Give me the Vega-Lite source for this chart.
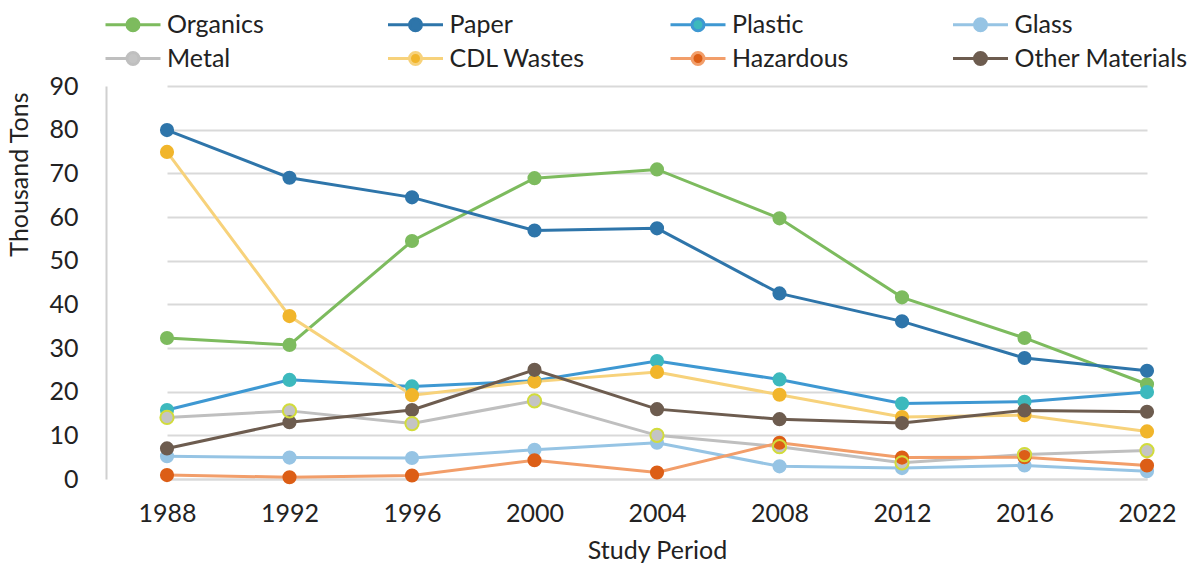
{
  "$schema": "https://vega.github.io/schema/vega-lite/v6.json",
  "width": 1093,
  "height": 393,
  "autosize": {"type": "none"},
  "padding": {"left": 106, "top": 86, "right": 0, "bottom": 86},
  "background": "white",
  "data": {
    "values": [
      {"year": "1988", "cat": "Organics", "v": 32.3},
      {"year": "1992", "cat": "Organics", "v": 30.7},
      {"year": "1996", "cat": "Organics", "v": 54.5},
      {"year": "2000", "cat": "Organics", "v": 68.9},
      {"year": "2004", "cat": "Organics", "v": 70.9},
      {"year": "2008", "cat": "Organics", "v": 59.7},
      {"year": "2012", "cat": "Organics", "v": 41.6},
      {"year": "2016", "cat": "Organics", "v": 32.3},
      {"year": "2022", "cat": "Organics", "v": 21.7},
      {"year": "1988", "cat": "Paper", "v": 79.9},
      {"year": "1992", "cat": "Paper", "v": 69.0},
      {"year": "1996", "cat": "Paper", "v": 64.5},
      {"year": "2000", "cat": "Paper", "v": 56.9},
      {"year": "2004", "cat": "Paper", "v": 57.4},
      {"year": "2008", "cat": "Paper", "v": 42.5},
      {"year": "2012", "cat": "Paper", "v": 36.1},
      {"year": "2016", "cat": "Paper", "v": 27.7},
      {"year": "2022", "cat": "Paper", "v": 24.8},
      {"year": "1988", "cat": "Plastic", "v": 15.8},
      {"year": "1992", "cat": "Plastic", "v": 22.7},
      {"year": "1996", "cat": "Plastic", "v": 21.2},
      {"year": "2000", "cat": "Plastic", "v": 22.5},
      {"year": "2004", "cat": "Plastic", "v": 27.0},
      {"year": "2008", "cat": "Plastic", "v": 22.8},
      {"year": "2012", "cat": "Plastic", "v": 17.3},
      {"year": "2016", "cat": "Plastic", "v": 17.7},
      {"year": "2022", "cat": "Plastic", "v": 19.9},
      {"year": "1988", "cat": "Glass", "v": 5.2},
      {"year": "1992", "cat": "Glass", "v": 4.9},
      {"year": "1996", "cat": "Glass", "v": 4.8},
      {"year": "2000", "cat": "Glass", "v": 6.7},
      {"year": "2004", "cat": "Glass", "v": 8.3},
      {"year": "2008", "cat": "Glass", "v": 2.9},
      {"year": "2012", "cat": "Glass", "v": 2.5},
      {"year": "2016", "cat": "Glass", "v": 3.1},
      {"year": "2022", "cat": "Glass", "v": 1.8},
      {"year": "1988", "cat": "Metal", "v": 14.1},
      {"year": "1992", "cat": "Metal", "v": 15.6},
      {"year": "1996", "cat": "Metal", "v": 12.7},
      {"year": "2000", "cat": "Metal", "v": 17.9},
      {"year": "2004", "cat": "Metal", "v": 10.0},
      {"year": "2008", "cat": "Metal", "v": 7.4},
      {"year": "2012", "cat": "Metal", "v": 3.7},
      {"year": "2016", "cat": "Metal", "v": 5.6},
      {"year": "2022", "cat": "Metal", "v": 6.5},
      {"year": "1988", "cat": "CDL Wastes", "v": 74.9},
      {"year": "1992", "cat": "CDL Wastes", "v": 37.3},
      {"year": "1996", "cat": "CDL Wastes", "v": 19.2},
      {"year": "2000", "cat": "CDL Wastes", "v": 22.3},
      {"year": "2004", "cat": "CDL Wastes", "v": 24.5},
      {"year": "2008", "cat": "CDL Wastes", "v": 19.3},
      {"year": "2012", "cat": "CDL Wastes", "v": 14.2},
      {"year": "2016", "cat": "CDL Wastes", "v": 14.6},
      {"year": "2022", "cat": "CDL Wastes", "v": 10.9},
      {"year": "1988", "cat": "Hazardous", "v": 0.9},
      {"year": "1992", "cat": "Hazardous", "v": 0.4},
      {"year": "1996", "cat": "Hazardous", "v": 0.8},
      {"year": "2000", "cat": "Hazardous", "v": 4.3},
      {"year": "2004", "cat": "Hazardous", "v": 1.5},
      {"year": "2008", "cat": "Hazardous", "v": 8.3},
      {"year": "2012", "cat": "Hazardous", "v": 4.9},
      {"year": "2016", "cat": "Hazardous", "v": 5.0},
      {"year": "2022", "cat": "Hazardous", "v": 3.1},
      {"year": "1988", "cat": "Other Materials", "v": 7.0},
      {"year": "1992", "cat": "Other Materials", "v": 13.0},
      {"year": "1996", "cat": "Other Materials", "v": 15.8},
      {"year": "2000", "cat": "Other Materials", "v": 25.0},
      {"year": "2004", "cat": "Other Materials", "v": 16.0},
      {"year": "2008", "cat": "Other Materials", "v": 13.7},
      {"year": "2012", "cat": "Other Materials", "v": 12.8},
      {"year": "2016", "cat": "Other Materials", "v": 15.7},
      {"year": "2022", "cat": "Other Materials", "v": 15.4}
    ]
  },
  "encoding": {
    "x": {
      "field": "year",
      "type": "ordinal",
      "scale": {"type": "point", "range": [61, 1041], "padding": 0},
      "axis": {
        "title": "Study Period",
        "labelAngle": 0,
        "labelPadding": 22,
        "titlePadding": 12,
        "ticks": false,
        "domain": true,
        "domainColor": "#D9D9D9",
        "domainWidth": 2
      }
    },
    "y": {
      "field": "v",
      "type": "quantitative",
      "scale": {"domain": [0, 90], "nice": false},
      "axis": {
        "title": "Thousand Tons",
        "titleAnchor": "end",
        "titleY": 6,
        "values": [0, 10, 20, 30, 40, 50, 60, 70, 80, 90],
        "ticks": false,
        "labelPadding": 28,
        "titlePadding": 16,
        "domainColor": "#D0D0D0",
        "domainWidth": 2,
        "grid": true,
        "gridColor": "#D9D9D9",
        "gridWidth": 2
      }
    }
  },
  "layer": [
    {
      "mark": {"type": "line", "strokeWidth": 3},
      "encoding": {
        "stroke": {
          "field": "cat",
          "type": "nominal",
          "title": null,
          "scale": {
            "domain": ["Organics", "Paper", "Plastic", "Glass", "Metal", "CDL Wastes", "Hazardous", "Other Materials"],
            "range": ["#7DBB5E", "#2E75AA", "#3E98D2", "#96C4E4", "#BFBFBF", "#F7D27B", "#F29E6A", "#6D5C4F"]
          }
        }
      }
    },
    {
      "mark": {"type": "point", "filled": true, "size": 200, "opacity": 1},
      "encoding": {
        "fill": {
          "field": "cat",
          "type": "nominal",
          "title": null,
          "scale": {
            "domain": ["Organics", "Paper", "Plastic", "Glass", "Metal", "CDL Wastes", "Hazardous", "Other Materials"],
            "range": ["#7DBB5E", "#2E75AA", "#3DB9BD", "#96C4E4", "#C4C4C4", "#F1B52B", "#DC5E16", "#6D5C4F"]
          }
        }
      }
    },
    {
      "transform": [{"filter": "datum.cat === 'Metal'"}],
      "mark": {"type": "point", "filled": false, "size": 175, "stroke": "#D2DC3B", "strokeWidth": 2, "opacity": 1}
    }
  ],
  "config": {
    "view": {"stroke": null},
    "font": "Lato",
    "axis": {
      "labelFont": "Lato",
      "labelFontSize": 25,
      "labelColor": "#222222",
      "titleFont": "Lato",
      "titleFontSize": 25,
      "titleFontWeight": "normal",
      "titleColor": "#222222"
    },
    "legend": {
      "orient": "none",
      "legendX": 14.5,
      "legendY": -74,
      "columns": 4,
      "direction": "horizontal",
      "gridAlign": "all",
      "columnPadding": 41.5,
      "rowPadding": 8,
      "symbolType": "M-3.4375,0H-0.75M0.75,0H3.4375M-0.75,0A0.75,0.75,0,1,1,0.75,0A0.75,0.75,0,1,1,-0.75,0Z",
      "symbolSize": 256,
      "symbolStrokeWidth": 3,
      "symbolOpacity": 1,
      "labelOffset": 21.5,
      "labelLimit": 300,
      "labelFont": "Lato",
      "labelFontSize": 25,
      "labelColor": "#222222",
      "padding": 0
    }
  }
}
